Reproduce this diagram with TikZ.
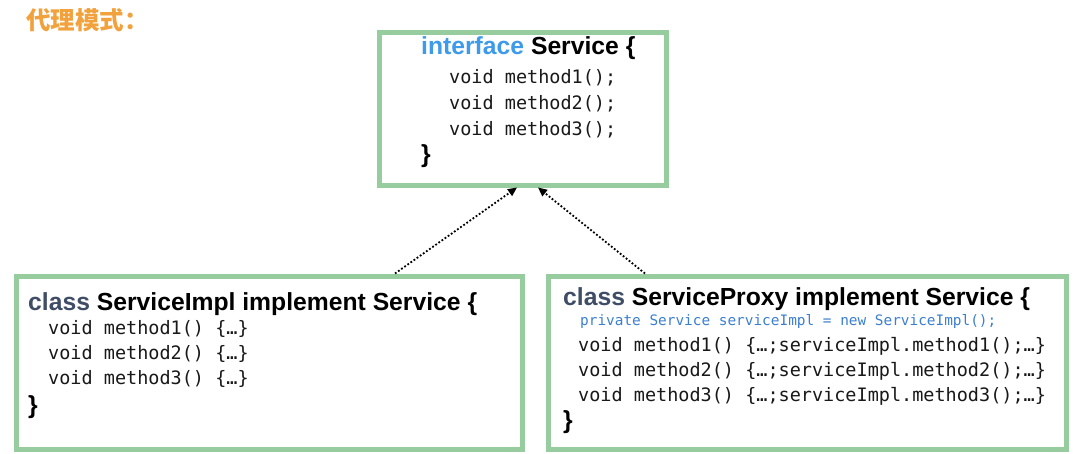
\documentclass[tikz,border=0pt]{standalone}
\usepackage{fontspec}
\usepackage{xcolor}
\usetikzlibrary{arrows.meta}

\newfontfamily\headfont{Liberation Sans}
\newfontfamily\codefont{DejaVu Sans Mono}
\newfontfamily\cjkfont{Noto Sans CJK SC}

\definecolor{boxgreen}{HTML}{97CC9E}
\definecolor{titleorange}{HTML}{F2A23C}
\definecolor{ifaceblue}{HTML}{3D9BE9}
\definecolor{classgray}{HTML}{3F4D66}
\definecolor{fieldblue}{HTML}{3B7FD0}

\begin{document}
\begin{tikzpicture}[x=1pt,y=-1pt,
    umlbox/.style={draw=boxgreen, line width=5pt, inner sep=0pt},
    head/.style={anchor=base west, inner sep=0pt, font=\headfont\bfseries\fontsize{24.7}{28}\selectfont},
    code/.style={anchor=base west, inner sep=0pt, font=\codefont\fontsize{18.5}{22}\selectfont, text=black!90},
    field/.style={anchor=base west, inner sep=0pt, font=\codefont\fontsize{14.4}{17}\selectfont, text=fieldblue},
    dep/.style={dotted, line width=1.8pt, -{Triangle[length=9pt,width=8pt]}}]

    \fill[white] (0,0) rectangle (1080,453);
    \useasboundingbox (0,0) rectangle (1080,453);

    % title
    \node[anchor=base west, inner sep=0pt, text=titleorange,
          font=\cjkfont\bfseries\fontsize{24.5}{28}\selectfont] (title) at (26,29) {代理模式：};

    % interface box
    \node[umlbox, minimum width=287pt, minimum height=153pt] (iface) at (522.5,108.5) {};
    \node[head] (ifacehead) at (421,54) {\textcolor{ifaceblue}{interface} Service \{};
    \foreach \i/\y in {1/83,2/109,3/135} {
        \node[code] (ifacem\i) at (449,\y) {void method\i();};
    }
    \node[head] (ifaceend) at (421,162) {\}};

    % ServiceImpl box
    \node[umlbox, minimum width=506pt, minimum height=173pt] (impl) at (269,362.5) {};
    \node[head] (implhead) at (28,310) {\textcolor{classgray}{class} ServiceImpl implement Service \{};
    \foreach \i/\y in {1/334,2/359,3/384} {
        \node[code] (implm\i) at (48,\y) {void method\i() \{…\}};
    }
    \node[head] (implend) at (28,413) {\}};

    % ServiceProxy box
    \node[umlbox, minimum width=518pt, minimum height=173pt] (proxy) at (807,362.5) {};
    \node[head] (proxyhead) at (563,305) {\textcolor{classgray}{class} ServiceProxy implement Service \{};
    \node[field] (proxyfield) at (580,325) {private Service serviceImpl = new ServiceImpl();};
    \foreach \i/\y in {1/351,2/376,3/401} {
        \node[code] (proxym\i) at (578,\y) {void method\i() \{…;serviceImpl.method\i();…\}};
    }
    \node[head] (proxyend) at (563,428) {\}};

    % realization arrows
    \draw[dep] ([xshift=-129.5pt]impl.north east) -- ([xshift=-5.5pt]iface.south);
    \draw[dep] ([xshift=99.5pt]proxy.north west) -- ([xshift=15.5pt]iface.south);

\end{tikzpicture}
\end{document}
